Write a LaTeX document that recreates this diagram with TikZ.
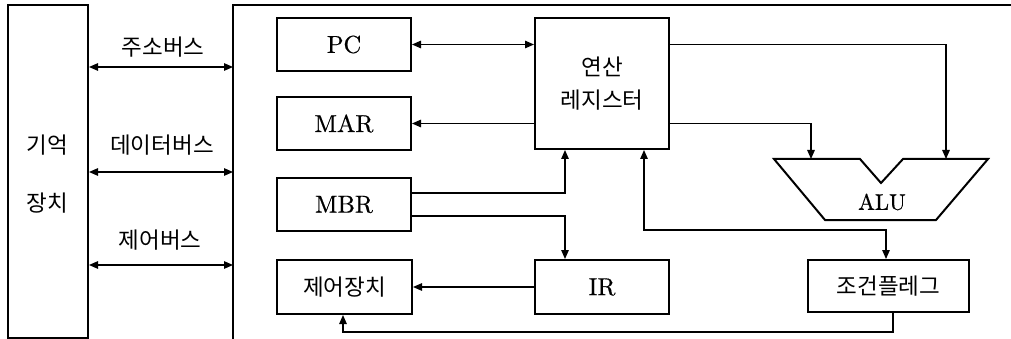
\documentclass[tikz,border=0pt]{standalone}
\usepackage{fontspec}
\newfontfamily\kr{Noto Sans CJK KR}
\newfontfamily\lmr{lmroman10-regular}[Extension=.otf,FakeBold=0.6]
\usetikzlibrary{arrows.meta}
\begin{document}
\begin{tikzpicture}[x=1pt,y=-1pt,
  box/.style={draw,line width=2pt,inner sep=0pt,minimum width=#1},
  box/.default=134pt,
  lat/.style={font=\lmr\fontsize{24.5}{28}\selectfont},
  kor/.style={font=\kr\fontsize{22.5}{33}\selectfont},
  conn/.style={line width=1.3pt,arrows={-},>={Triangle[length=9pt,width=7.5pt]}},
  frame/.style={line width=2pt}]
\useasboundingbox (0,0) rectangle (1011,339);
% memory and CPU frame
\node[box=80pt,minimum height=333pt] (mem) at (48,171.5) {};
\node[kor] (memt1) at (47,145) {기억};
\node[kor] (memt2) at (47,203) {장치};
\coordinate (cpuL) at (233,0);
\draw[frame] (233,339) -- (233,5) -- (1011,5);
% bus
\coordinate (b1) at (0,67);
\coordinate (b2) at (0,172);
\coordinate (b3) at (0,265);
\draw[conn,<->] (mem.east |- b1) -- (cpuL |- b1);
\draw[conn,<->] (mem.east |- b2) -- (cpuL |- b2);
\draw[conn,<->] (mem.east |- b3) -- (cpuL |- b3);
\node[kor] (l1) at (163,47) {주소버스};
\node[kor] (l2) at (162,145) {데이터버스};
\node[kor] (l3) at (160,240) {제어버스};
% boxes
\node[box,minimum height=53pt,lat] (pc) at (344,44.5) {PC};
\node[box,minimum height=53pt,lat] (mar) at (344,123.5) {MAR};
\node[box,minimum height=53pt,lat] (mbr) at (344,204.5) {MBR};
\node[box=135pt,minimum height=54pt,kor] (ctrl) at (344.5,287) {제어장치};
\node[box,minimum height=54pt,lat] (ir) at (602,287) {IR};
\node[box,minimum height=131pt,kor,align=center] (reg) at (602,83.5) {연산\\레지스터};
\node[box=161pt,minimum height=52pt,kor] (flag) at (888.5,286) {조건플레그};
% ALU
\coordinate (alu1) at (811,159);
\coordinate (alu2) at (946,159);
\draw[frame,line join=miter] (774,159) -- (860,159) -- (881,183) -- (903,159) -- (988,159) -- (936,220) -- (825,220) -- cycle;
\node[font=\lmr\fontsize{22.5}{26}\selectfont] (alut) at (882,202) {ALU};
% connectors
\coordinate (c565) at (565,0);
\coordinate (m1) at (0,193);
\coordinate (m2) at (0,216);
\coordinate (p1) at (644,230);
\coordinate (c886) at (886,0);
\coordinate (q1) at (893,332);
\coordinate (q2) at (343,332);
\draw[conn,<->] (pc.east) -- (reg.west |- pc.east);
\draw[conn,->] (reg.west |- mar.east) -- (mar.east);
\draw[conn,->] (mbr.east |- m1) -| (reg.south -| c565);
\draw[conn,->] (mbr.east |- m2) -| (ir.north -| c565);
\draw[conn,<->] (reg.south -| p1) -- (p1) -| (flag.north -| c886);
\draw[conn,->] (flag.south -| q1) -- (q1) -- (q2) -- (ctrl.south -| q2);
\draw[conn,->] (reg.east |- pc.east) -| (alu2);
\draw[conn,->] (reg.east |- mar.east) -| (alu1);
\draw[conn,->] (ir.west) -- (ctrl.east);
\end{tikzpicture}
\end{document}
